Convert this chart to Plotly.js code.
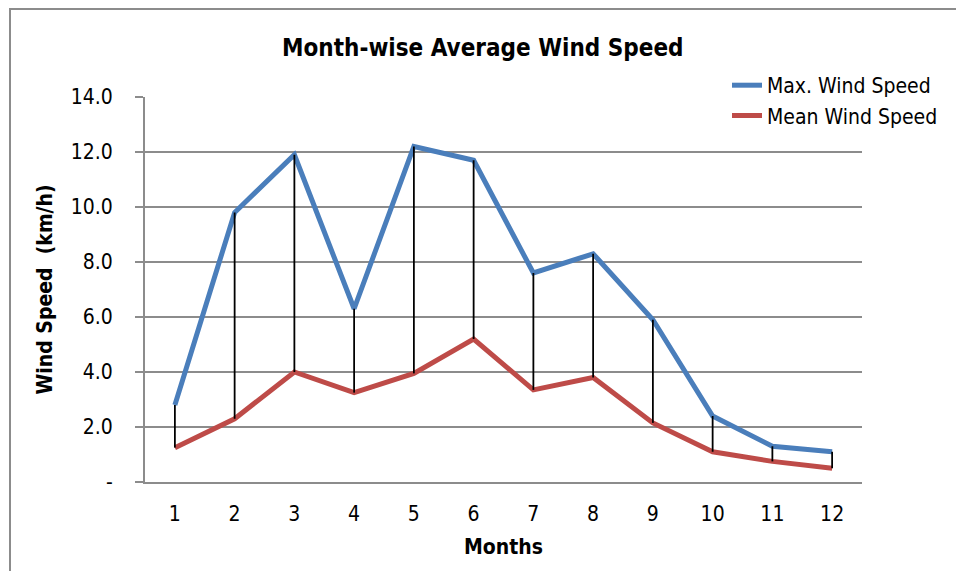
<!DOCTYPE html>
<html>
<head>
<meta charset="utf-8">
<script src="https://cdn.plot.ly/plotly-3.0.1.min.js"></script>
<style>
  html, body { margin: 0; padding: 0; background: #fff; }
  #wrap { position: relative; width: 956px; height: 571px; overflow: hidden; }
  #frame { position: absolute; left: 9px; top: 8px; width: 960px; height: 580px;
           border-top: 2px solid #8c8c8c; border-left: 2px solid #8c8c8c; pointer-events: none; }
  #chart { position: absolute; left: 0; top: 0; width: 956px; height: 571px; }
</style>
</head>
<body>
<div id="wrap">
  <div id="chart"></div>
  <div id="frame"></div>
</div>
<script>
const months = [1, 2, 3, 4, 5, 6, 7, 8, 9, 10, 11, 12];
const maxWind = [2.8, 9.8, 11.9, 6.3, 12.2, 11.7, 7.6, 8.3, 5.9, 2.4, 1.3, 1.1];
const meanWind = [1.25, 2.3, 4.0, 3.25, 3.95, 5.2, 3.35, 3.8, 2.15, 1.1, 0.75, 0.5];
const yTickVals = [0, 2, 4, 6, 8, 10, 12, 14];
const yTickText = ['-', '2.0', '4.0', '6.0', '8.0', '10.0', '12.0', '14.0'];

const FONT = '"DejaVu Sans Condensed", "Liberation Sans Narrow", "Arial Narrow", sans-serif';

// high-low connector lines built from the data arrays
const hlX = [], hlY = [];
months.forEach((m, i) => {
  hlX.push(m, m, null);
  hlY.push(maxWind[i], meanWind[i], null);
});

const traces = [
  {
    x: months, y: maxWind, name: 'Max. Wind Speed', type: 'scatter', mode: 'lines',
    line: { color: '#4a7ebb', width: 5 }
  },
  {
    x: months, y: meanWind, name: 'Mean Wind Speed', type: 'scatter', mode: 'lines',
    line: { color: '#be4b48', width: 5 }
  },
  {
    x: hlX, y: hlY, type: 'scatter', mode: 'lines', showlegend: false, hoverinfo: 'skip',
    line: { color: '#000000', width: 1.8 }, connectgaps: false
  }
];

const layout = {
  width: 956, height: 571,
  margin: { l: 145, r: 94, t: 97, b: 89, pad: 0, autoexpand: false },
  paper_bgcolor: 'rgba(0,0,0,0)', plot_bgcolor: '#fff',
  font: { family: FONT, size: 21, color: '#000' },
  title: {
    text: '<b>Month-wise Average Wind Speed</b>',
    font: { family: FONT, size: 24, color: '#000' },
    xref: 'container', yref: 'container', x: 0.505, y: 0.916, xanchor: 'center', yanchor: 'middle'
  },
  xaxis: {
    range: [0.5, 12.5], tickvals: months, ticktext: months.map(String),
    showgrid: false, zeroline: false, showline: true, linecolor: '#8c8c8c', linewidth: 2,
    ticks: '', ticklabelstandoff: 12, tickfont: { family: FONT, size: 21, color: '#000' },
    title: { text: '<b>Months</b>', font: { family: FONT, size: 21, color: '#000' }, standoff: 14 }
  },
  yaxis: {
    range: [0, 14], tickvals: yTickVals, ticktext: yTickText,
    showgrid: true, gridcolor: '#8c8c8c', gridwidth: 1.5, zeroline: false,
    showline: true, linecolor: '#8c8c8c', linewidth: 2,
    ticks: 'outside', ticklen: 8, tickcolor: '#8c8c8c', tickwidth: 1.5,
    ticklabelstandoff: 18,
    tickfont: { family: FONT, size: 21, color: '#000' },
    title: { text: '<b>Wind Speed  (km/h)</b>', font: { family: FONT, size: 21, color: '#000' }, standoff: 12 }
  },
  legend: {
    x: 0.8117, y: 1.083, xanchor: 'left', yanchor: 'top', xref: 'paper', yref: 'paper',
    bgcolor: 'rgba(255,255,255,0)', font: { family: FONT, size: 21, color: '#000' },
    tracegroupgap: 0, itemwidth: 30
  },
  showlegend: true
};

Plotly.newPlot('chart', traces, layout, { displayModeBar: false, staticPlot: true });
</script>
</body>
</html>
